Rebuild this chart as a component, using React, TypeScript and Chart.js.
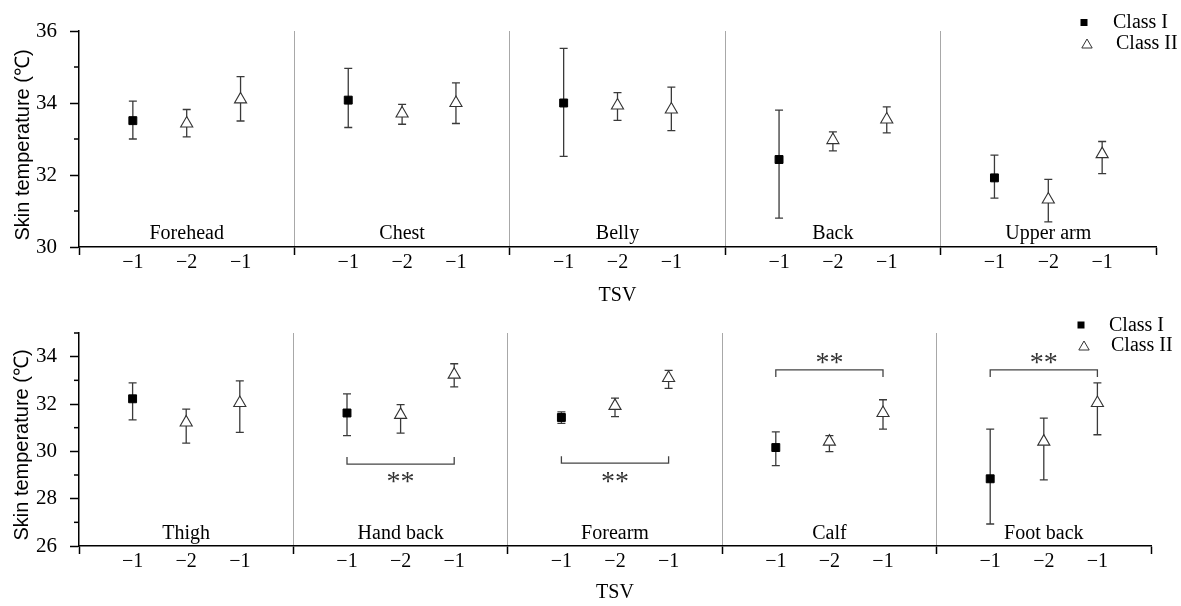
import React, { useEffect, useRef } from 'react';
import { Chart, registerables } from 'chart.js';

Chart.register(...registerables);

// ---------------- data ----------------
const tsvLabels = ['−1', '−2', '−1'];
const seriesNames = ['Class I', 'Class II'];
const yAxisTitle = 'Skin temperature (℃)';
const xAxisTitle = 'TSV';
const significanceLabel = '**';

const topGroups = ['Forehead', 'Chest', 'Belly', 'Back', 'Upper arm'];
const topClassIMean = [33.51, 34.08, 34.0, 32.43, 31.92];
const topClassILow = [33.0, 33.32, 32.52, 30.8, 31.36];
const topClassIHigh = [34.05, 34.96, 35.52, 33.8, 32.55];
const topClassIIMinus2Mean = [33.43, 33.71, 33.93, 32.97, 31.32];
const topClassIIMinus2Low = [33.06, 33.41, 33.52, 32.67, 30.7];
const topClassIIMinus2High = [33.82, 33.96, 34.29, 33.2, 31.88];
const topClassIIMinus1Mean = [34.1, 34.0, 33.82, 33.54, 32.58];
const topClassIIMinus1Low = [33.5, 33.43, 33.23, 33.17, 32.04];
const topClassIIMinus1High = [34.73, 34.56, 34.44, 33.89, 32.93];
const topYTicks = [30, 32, 34, 36];
const topYMinorTicks = [31, 33, 35];

const bottomGroups = ['Thigh', 'Hand back', 'Forearm', 'Calf', 'Foot back'];
const bottomClassIMean = [32.22, 31.62, 31.43, 30.16, 28.84];
const bottomClassILow = [31.33, 30.66, 31.18, 29.4, 26.93];
const bottomClassIHigh = [32.89, 32.43, 31.67, 30.82, 30.94];
const bottomClassIIMinus2Mean = [31.22, 31.54, 31.92, 30.41, 30.41];
const bottomClassIIMinus2Low = [30.35, 30.77, 31.47, 29.99, 28.79];
const bottomClassIIMinus2High = [31.78, 31.97, 32.25, 30.66, 31.4];
const bottomClassIIMinus1Mean = [32.04, 33.24, 33.1, 31.62, 32.04];
const bottomClassIIMinus1Low = [30.8, 32.72, 32.66, 30.94, 30.7];
const bottomClassIIMinus1High = [32.98, 33.7, 33.42, 32.18, 32.89];
const bottomYTicks = [26, 28, 30, 32, 34];
const bottomYMinorTicks = [27, 29, 31, 33, 35];
const bottomBracketGroups = [1, 2, 3, 4];
const bottomBracketValues = [29.46, 29.5, 33.44, 33.44];
const bottomBracketSides = ['below', 'below', 'above', 'above'];

// ---------------- styling ----------------
const SERIF = "'Liberation Serif', 'Times New Roman', serif";
const SANS = "'Liberation Sans', Arial, sans-serif";
const SLOTS = [0.75, 1.5, 2.25];
const W = 1181;
const H = 303;

type PanelCfg = {
  groups: string[];
  iMean: number[]; iLow: number[]; iHigh: number[];
  m2Mean: number[]; m2Low: number[]; m2High: number[];
  m1Mean: number[]; m1Low: number[]; m1High: number[];
  yMin: number; yMax: number;
  yTicks: number[]; yMinor: number[];
  brackets: { group: number; value: number; side: string }[];
  padTop: number; padRight: number; xAxisHeight: number;
  yTitleX: number; yTitleY: number;
  tsvY: number;
  legend: { sqX: number; sqY: number; txt1X: number; triX: number; triY: number; txt2X: number };
  groupLabelOffset: number;
};

const topCfg: PanelCfg = {
  groups: topGroups,
  iMean: topClassIMean, iLow: topClassILow, iHigh: topClassIHigh,
  m2Mean: topClassIIMinus2Mean, m2Low: topClassIIMinus2Low, m2High: topClassIIMinus2High,
  m1Mean: topClassIIMinus1Mean, m1Low: topClassIIMinus1Low, m1High: topClassIIMinus1High,
  yMin: 30, yMax: 36, yTicks: topYTicks, yMinor: topYMinorTicks,
  brackets: [],
  padTop: 31, padRight: 25, xAxisHeight: 56,
  yTitleX: 23, yTitleY: 145, tsvY: 296,
  legend: { sqX: 1084, sqY: 22.5, txt1X: 1113, triX: 1087, triY: 44, txt2X: 1116 },
  groupLabelOffset: 13,
};

const bottomCfg: PanelCfg = {
  groups: bottomGroups,
  iMean: bottomClassIMean, iLow: bottomClassILow, iHigh: bottomClassIHigh,
  m2Mean: bottomClassIIMinus2Mean, m2Low: bottomClassIIMinus2Low, m2High: bottomClassIIMinus2High,
  m1Mean: bottomClassIIMinus1Mean, m1Low: bottomClassIIMinus1Low, m1High: bottomClassIIMinus1High,
  yMin: 26, yMax: 35, yTicks: bottomYTicks, yMinor: bottomYMinorTicks,
  brackets: bottomBracketGroups.map((g, i) => ({ group: g, value: bottomBracketValues[i], side: bottomBracketSides[i] })),
  padTop: 30, padRight: 30, xAxisHeight: 60,
  yTitleX: 22, yTitleY: 142, tsvY: 290,
  legend: { sqX: 1081, sqY: 22, txt1X: 1109, triX: 1084, triY: 43, txt2X: 1111 },
  groupLabelOffset: 12,
};

function drawTriangle(ctx: CanvasRenderingContext2D, cx: number, cy: number, r: number) {
  ctx.beginPath();
  ctx.moveTo(cx, cy - r);
  ctx.lineTo(cx + r * 0.866, cy + r * 0.5);
  ctx.lineTo(cx - r * 0.866, cy + r * 0.5);
  ctx.closePath();
}

const errorBarPlugin = {
  id: 'errorBars',
  beforeDatasetsDraw(chart: any) {
    const ctx = chart.ctx as CanvasRenderingContext2D;
    const ys = chart.scales.y;
    ctx.save();
    ctx.strokeStyle = '#3a3a3a';
    ctx.lineWidth = 1.3;
    chart.data.datasets.forEach((ds: any, di: number) => {
      const meta = chart.getDatasetMeta(di);
      meta.data.forEach((el: any, i: number) => {
        const x = el.x;
        const yh = ys.getPixelForValue(ds.high[i]);
        const yl = ys.getPixelForValue(ds.low[i]);
        ctx.beginPath();
        ctx.moveTo(x, yh);
        ctx.lineTo(x, yl);
        ctx.moveTo(x - 4, yh);
        ctx.lineTo(x + 4, yh);
        ctx.moveTo(x - 4, yl);
        ctx.lineTo(x + 4, yl);
        ctx.stroke();
      });
    });
    ctx.restore();
  },
};

function makeDecorPlugin(cfg: PanelCfg) {
  return {
    id: 'decor',
    afterDraw(chart: any) {
      const ctx = chart.ctx as CanvasRenderingContext2D;
      const xs = chart.scales.x;
      const ys = chart.scales.y;
      const area = chart.chartArea;
      ctx.save();
      // minor y ticks
      ctx.strokeStyle = '#000';
      ctx.lineWidth = 1.5;
      cfg.yMinor.forEach((v) => {
        const p = ys.getPixelForValue(v);
        ctx.beginPath();
        ctx.moveTo(area.left - 5, p);
        ctx.lineTo(area.left, p);
        ctx.stroke();
      });
      // group labels
      ctx.fillStyle = '#000';
      ctx.font = `20px ${SERIF}`;
      ctx.textAlign = 'center';
      ctx.textBaseline = 'middle';
      cfg.groups.forEach((g, i) => {
        const cx = xs.getPixelForValue(i * 3 + 1.5);
        ctx.fillText(g, cx, area.bottom - cfg.groupLabelOffset);
      });
      // x title
      ctx.fillText(xAxisTitle, (area.left + area.right) / 2, cfg.tsvY);
      // y title
      ctx.save();
      ctx.translate(cfg.yTitleX, cfg.yTitleY);
      ctx.rotate(-Math.PI / 2);
      ctx.font = `20px ${SANS}`;
      ctx.fillText(yAxisTitle, 0, 0);
      ctx.restore();
      // brackets
      ctx.strokeStyle = '#444';
      ctx.lineWidth = 1.3;
      cfg.brackets.forEach((b) => {
        const x1 = xs.getPixelForValue(b.group * 3 + SLOTS[0]);
        const x2 = xs.getPixelForValue(b.group * 3 + SLOTS[2]);
        const yp = ys.getPixelForValue(b.value);
        const dir = b.side === 'below' ? -1 : 1;
        ctx.beginPath();
        ctx.moveTo(x1, yp + dir * 7);
        ctx.lineTo(x1, yp);
        ctx.lineTo(x2, yp);
        ctx.lineTo(x2, yp + dir * 7);
        ctx.stroke();
        ctx.fillStyle = '#333';
        ctx.font = `28px ${SERIF}`;
        const sy = b.side === 'below' ? yp + 15 + 4 : yp - 10 + 4;
        ctx.fillText(significanceLabel, (x1 + x2) / 2, sy);
      });
      // legend
      const L = cfg.legend;
      ctx.fillStyle = '#000';
      ctx.fillRect(L.sqX - 3.5, L.sqY - 3.5, 7, 7);
      ctx.fillStyle = '#fff';
      ctx.strokeStyle = '#333';
      ctx.lineWidth = 1;
      drawTriangle(ctx, L.triX, L.triY + 1, 6);
      ctx.fill();
      ctx.stroke();
      ctx.fillStyle = '#000';
      ctx.font = `20px ${SERIF}`;
      ctx.textAlign = 'left';
      ctx.fillText(seriesNames[0], L.txt1X, L.sqY + 0.5);
      ctx.fillText(seriesNames[1], L.txt2X, L.triY);
      ctx.restore();
    },
  };
}

function Panel({ cfg, top }: { cfg: PanelCfg; top: number }) {
  const ref = useRef<HTMLCanvasElement>(null);
  useEffect(() => {
    const canvas = ref.current;
    if (!canvas) return;
    const ds1: any = {
      label: seriesNames[0],
      data: cfg.iMean.map((v, g) => ({ x: g * 3 + SLOTS[0], y: v })),
      low: cfg.iLow,
      high: cfg.iHigh,
      pointStyle: 'rect',
      pointRadius: 5.6,
      pointHoverRadius: 5.6,
      backgroundColor: '#000',
      borderColor: '#000',
      borderWidth: 1,
      showLine: false,
    };
    const ds2: any = {
      label: seriesNames[1],
      data: cfg.groups.flatMap((_, g) => [
        { x: g * 3 + SLOTS[1], y: cfg.m2Mean[g] },
        { x: g * 3 + SLOTS[2], y: cfg.m1Mean[g] },
      ]),
      low: cfg.groups.flatMap((_, g) => [cfg.m2Low[g], cfg.m1Low[g]]),
      high: cfg.groups.flatMap((_, g) => [cfg.m2High[g], cfg.m1High[g]]),
      pointStyle: 'triangle',
      pointRadius: 7,
      pointHoverRadius: 7,
      backgroundColor: '#fff',
      borderColor: '#333',
      borderWidth: 1.1,
      showLine: false,
    };
    const nGroups = cfg.groups.length;
    const xTickVals: number[] = [];
    for (let g = 0; g < nGroups; g++) {
      xTickVals.push(g * 3);
      SLOTS.forEach((s) => xTickVals.push(g * 3 + s));
    }
    xTickVals.push(nGroups * 3);
    const isBoundary = (v: number) => Math.abs(v / 3 - Math.round(v / 3)) < 1e-6;
    const chart = new Chart(canvas, {
      type: 'scatter',
      data: { datasets: [ds1, ds2] },
      options: {
        animation: false,
        responsive: false,
        events: [],
        layout: { padding: { top: cfg.padTop, right: cfg.padRight, bottom: 0, left: 0 } },
        plugins: { legend: { display: false }, tooltip: { enabled: false } },
        scales: {
          x: {
            type: 'linear',
            min: 0,
            max: nGroups * 3,
            afterBuildTicks: (scale: any) => {
              scale.ticks = xTickVals.map((v) => ({ value: v }));
            },
            afterFit: (scale: any) => {
              scale.height = cfg.xAxisHeight;
            },
            ticks: {
              autoSkip: false,
              maxRotation: 0,
              padding: -2,
              color: '#000',
              font: { family: SERIF, size: 20, lineHeight: 1 },
              callback: (v: any) => {
                const val = Number(v);
                if (isBoundary(val)) return '';
                const r = val - Math.floor(val / 3) * 3;
                const idx = Math.round(r / 0.75) - 1;
                return tsvLabels[idx] ?? '';
              },
            },
            grid: {
              drawOnChartArea: true,
              tickLength: 8,
              lineWidth: 1,
              tickWidth: 1.5,
              color: (c: any) => {
                const v = c.tick ? c.tick.value : -1;
                return isBoundary(v) && v > 0 && v < nGroups * 3 ? '#a8a8a8' : 'rgba(0,0,0,0)';
              },
              tickColor: (c: any) => {
                const v = c.tick ? c.tick.value : -1;
                return isBoundary(v) ? '#000' : 'rgba(0,0,0,0)';
              },
            },
            border: { display: true, color: '#000', width: 1.5 },
          },
          y: {
            type: 'linear',
            min: cfg.yMin,
            max: cfg.yMax,
            afterBuildTicks: (scale: any) => {
              scale.ticks = cfg.yTicks.map((v) => ({ value: v }));
            },
            afterFit: (scale: any) => {
              scale.width = 79;
            },
            ticks: {
              padding: 13,
              color: '#000',
              font: { family: SERIF, size: 21, lineHeight: 1 },
              callback: (v: any) => String(v),
            },
            grid: {
              drawOnChartArea: false,
              tickLength: 9,
              tickWidth: 1.5,
              tickColor: '#000',
            },
            border: { display: true, color: '#000', width: 1.5 },
          },
        },
      } as any,
      plugins: [errorBarPlugin, makeDecorPlugin(cfg)],
    });
    return () => chart.destroy();
  }, [cfg]);
  return (
    <div style={{ position: 'absolute', left: 0, top, width: W, height: H }}>
      <canvas ref={ref} width={W} height={H} style={{ width: W, height: H, display: 'block' }} />
    </div>
  );
}

export default function App() {
  return (
    <div style={{ position: 'absolute', left: 0, top: 0, width: W, height: 606, background: '#fff' }}>
      <Panel cfg={topCfg} top={0} />
      <Panel cfg={bottomCfg} top={303} />
    </div>
  );
}
